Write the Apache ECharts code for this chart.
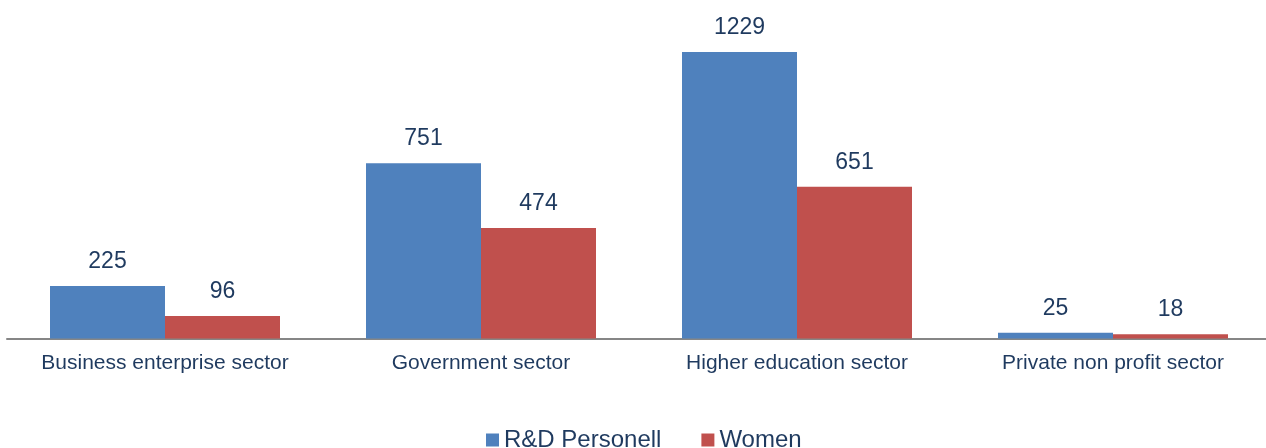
<!DOCTYPE html>
<html>
<head>
<meta charset="utf-8">
<script src="https://cdn.jsdelivr.net/npm/echarts@6/dist/echarts.min.js"></script>
<style>
  html, body { margin: 0; padding: 0; background: #fff; overflow: hidden; }
  #chart { width: 1271px; height: 448px; }
</style>
</head>
<body>
<div id="chart"></div>
<script>
// data
const sectors = ["Business enterprise sector", "Government sector", "Higher education sector", "Private non profit sector"];
const personnel = [225, 751, 1229, 25];
const women = [96, 474, 651, 18];

const textColor = "#1F3A5F";
const fontFamily = "Liberation Sans, Arial, sans-serif";

// plot runs a few px past the right edge of the window, like the original
const chart = echarts.init(document.getElementById("chart"));
chart.setOption({
  animation: false,
  textStyle: { fontFamily: fontFamily },
  grid: { left: 7, right: 0, top: 12, bottom: 109.5 },
  legend: {
    bottom: -9,
    left: 481,
    itemWidth: 13,
    itemHeight: 13,
    itemGap: 40,
    icon: "rect",
    textStyle: { fontSize: 24, color: textColor, fontFamily: fontFamily },
    data: ["R&D Personell", "Women"]
  },
  xAxis: {
    type: "category",
    data: sectors,
    axisLine: { lineStyle: { color: "#868686", width: 2 } },
    axisTick: { show: false },
    axisLabel: { fontSize: 21, color: textColor, margin: 14, interval: 0 }
  },
  yAxis: {
    type: "value",
    min: 0,
    max: 1400,
    show: false,
    splitLine: { show: false }
  },
  series: [
    {
      name: "R&D Personell",
      type: "bar",
      data: personnel,
      barWidth: 115,
      barGap: "0%",
      itemStyle: { color: "#4F81BD" },
      label: { show: true, position: "top", distance: 13, fontSize: 23, color: textColor }
    },
    {
      name: "Women",
      type: "bar",
      data: women,
      barWidth: 115,
      itemStyle: { color: "#C0504D" },
      label: { show: true, position: "top", distance: 13, fontSize: 23, color: textColor }
    }
  ]
});
</script>
</body>
</html>
